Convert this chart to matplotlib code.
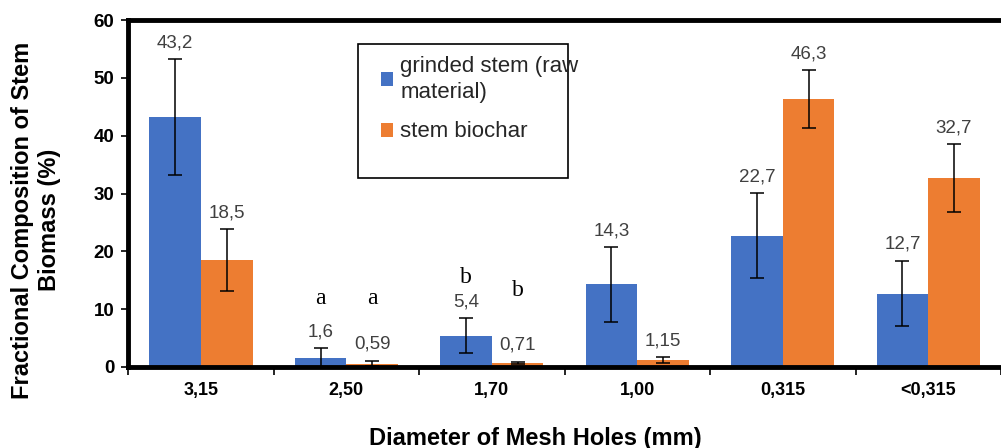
import numpy as np
import matplotlib
matplotlib.use('Agg')
import matplotlib.pyplot as plt
from matplotlib.patches import Rectangle

plt.rcParams['font.family'] = ['Liberation Sans', 'DejaVu Sans']

# data
categories = ['3,15', '2,50', '1,70', '1,00', '0,315', '<0,315']
raw = [43.2, 1.6, 5.4, 14.3, 22.7, 12.7]
raw_err = [10.0, 1.7, 3.0, 6.5, 7.4, 5.7]
biochar = [18.5, 0.59, 0.71, 1.15, 46.3, 32.7]
biochar_err = [5.3, 0.5, 0.2, 0.5, 5.0, 5.85]
raw_labels = ['43,2', '1,6', '5,4', '14,3', '22,7', '12,7']
biochar_labels = ['18,5', '0,59', '0,71', '1,15', '46,3', '32,7']
# significance letters: (group, series, letter, height)
letters = [(1, 0, 'a', 11.9), (1, 1, 'a', 11.9), (2, 0, 'b', 15.4), (2, 1, 'b', 13.3)]

blue = '#4472C4'
orange = '#ED7D31'

fig = plt.figure(figsize=(10.01, 4.48), dpi=100)
ax = fig.add_axes([0.128, 0.181, 0.872, 0.774])

x = np.arange(len(categories))
w = 0.355
ax.bar(x - w/2, raw, w, color=blue, label='grinded stem (raw\nmaterial)', zorder=2)
ax.bar(x + w/2, biochar, w, color=orange, label='stem biochar', zorder=2)
ax.errorbar(x - w/2, raw, yerr=raw_err, fmt='none', ecolor='black', elinewidth=1.1, capsize=5, capthick=1.1, zorder=3)
ax.errorbar(x + w/2, biochar, yerr=biochar_err, fmt='none', ecolor='black', elinewidth=1.1, capsize=5, capthick=1.1, zorder=3)

for i in range(len(categories)):
    ax.text(x[i] - w/2, raw[i] + raw_err[i] + 2.8, raw_labels[i], ha='center', va='center',
            fontsize=13.5, color='#404040')
    ax.text(x[i] + w/2, biochar[i] + biochar_err[i] + 2.8, biochar_labels[i], ha='center', va='center',
            fontsize=13.5, color='#404040')

for g, s, txt, h in letters:
    xx = x[g] - w/2 if s == 0 else x[g] + w/2
    ax.text(xx, h, txt, ha='center', va='center', fontsize=17, family='Liberation Serif', color='black')

ax.set_xlim(-0.5, 5.44)
ax.set_ylim(0, 60)
ax.set_yticks(range(0, 61, 10))
ax.set_xticks(x)
ax.set_xticklabels(categories, fontweight='bold', fontsize=13)
ax.set_xticks(np.arange(-0.5, 6, 1), minor=True)
ax.tick_params(axis='x', which='major', length=0, pad=11)
ax.tick_params(axis='x', which='minor', length=6, width=1.2, direction='out')
ax.tick_params(axis='y', length=5, width=1.2, pad=5)
for lab in ax.get_yticklabels():
    lab.set_fontweight('bold')
    lab.set_fontsize(13.5)

for side in ['left', 'bottom', 'top']:
    ax.spines[side].set_linewidth(3.5)
ax.spines['right'].set_visible(False)

ax.set_ylabel('Fractional Composition of Stem\nBiomass (%)', fontsize=17, fontweight='bold')
ax.yaxis.set_label_coords(-0.077, 0.424)
ax.set_xlabel('Diameter of Mesh Holes (mm)', fontsize=17, fontweight='bold')
ax.xaxis.set_label_coords(0.466, -0.172)

# legend box
ax.add_patch(Rectangle((0.263, 0.545), 0.241, 0.386, transform=ax.transAxes,
                       facecolor='white', edgecolor='black', linewidth=1.2, zorder=4))
leg = ax.legend(loc='upper left', bbox_to_anchor=(0.267, 0.955), frameon=False, fontsize=16,
                handlelength=0.55, handleheight=0.6, handletextpad=0.3, labelspacing=0.85)
leg.set_zorder(5)
for t in leg.get_texts():
    t.set_color('#262626')
    t.set_linespacing(1.3)

fig.savefig('out.png', dpi=100)
